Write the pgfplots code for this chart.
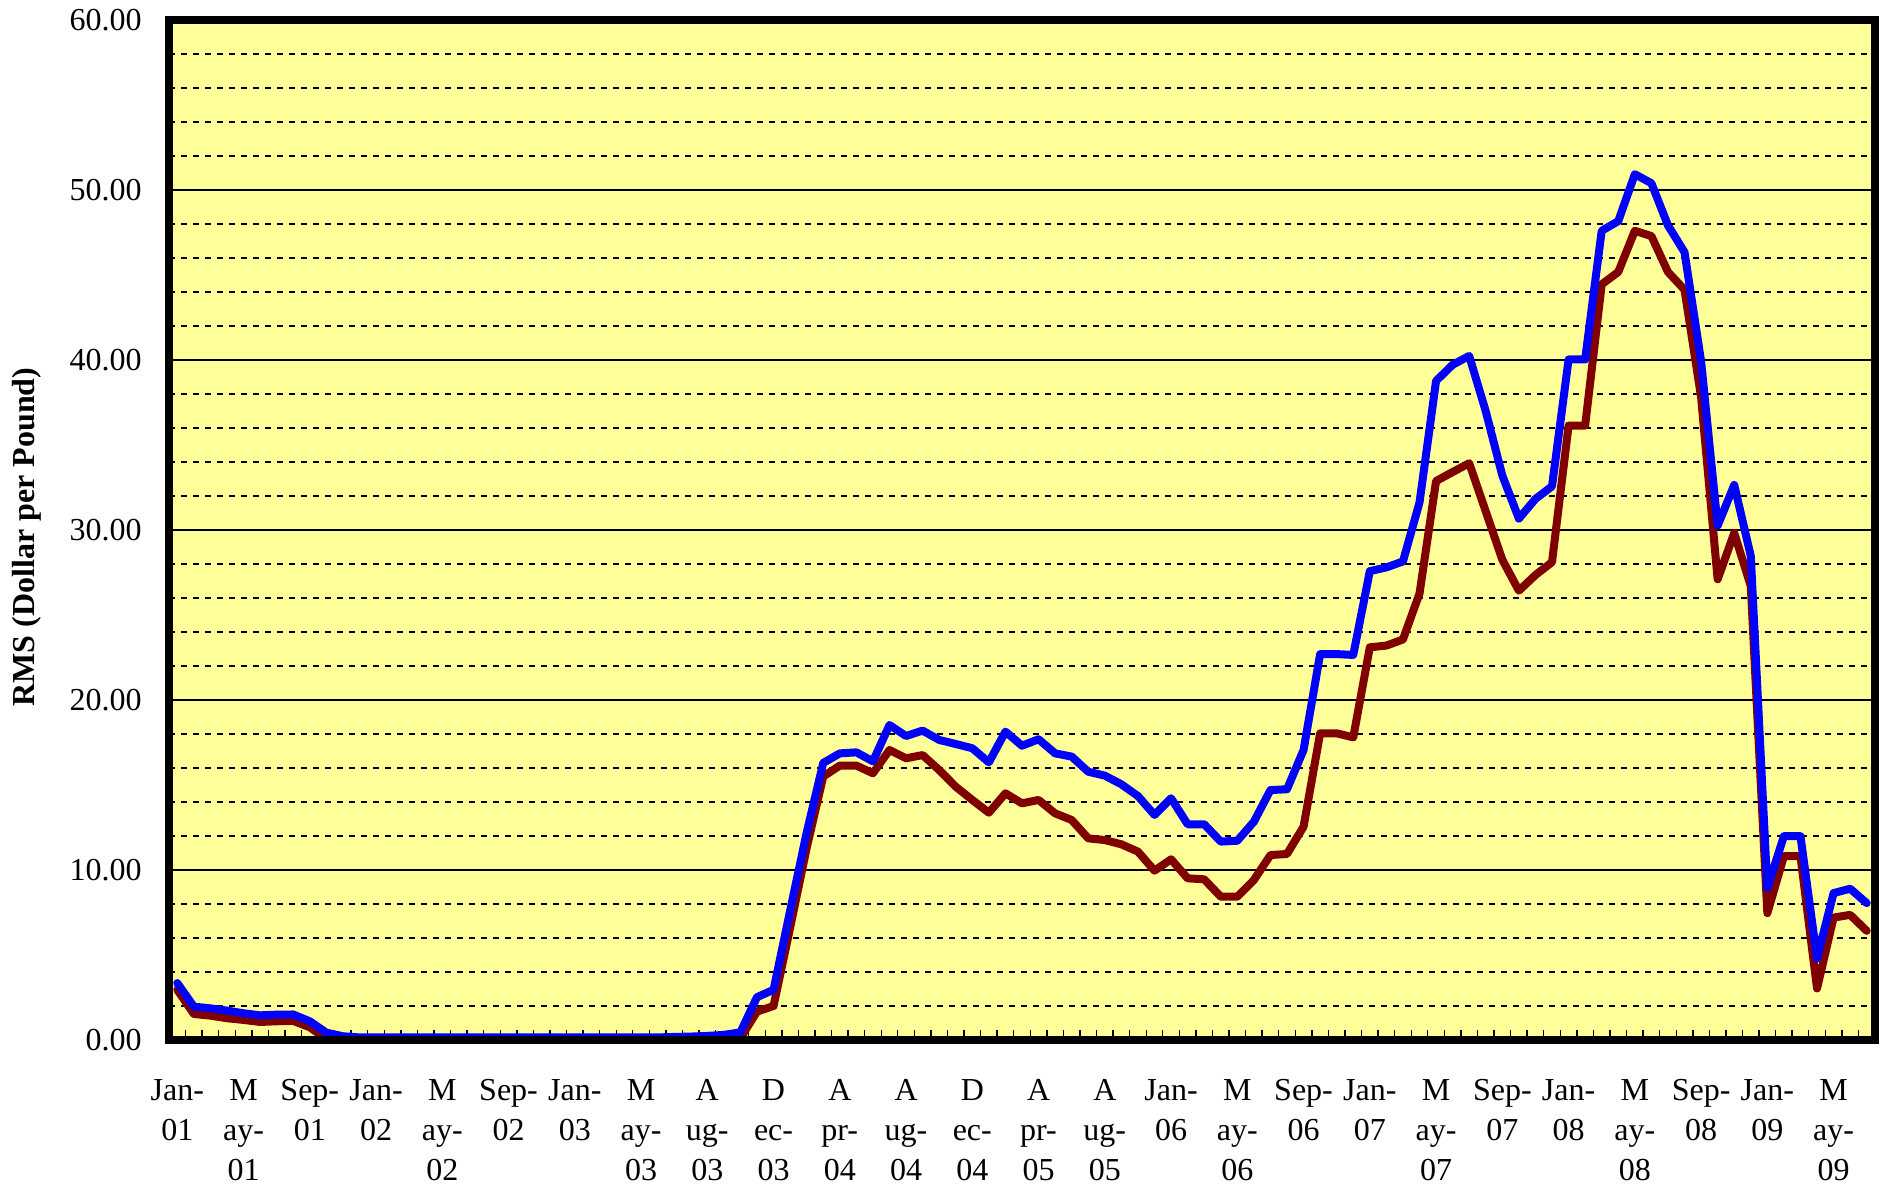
\documentclass[border=0pt]{standalone}
\usepackage{fontspec}
\setmainfont{Liberation Serif}
\usepackage{pgfplots}
\usepackage{pgfplotstable}
\pgfplotsset{compat=1.18}
\definecolor{bgyellow}{RGB}{255,255,153}
\definecolor{darkred}{RGB}{128,0,0}
\definecolor{pureblue}{RGB}{0,0,255}

\pgfplotstableread{
k blue red
0 3.35 2.95
1 1.96 1.53
2 1.86 1.43
3 1.73 1.28
4 1.57 1.18
5 1.45 1.06
6 1.49 1.10
7 1.50 1.12
8 1.10 0.75
9 0.43 0.05
10 0.22 0.02
11 0.15 0.02
12 0.15 0.02
13 0.15 0.02
14 0.15 0.02
15 0.15 0.02
16 0.15 0.02
17 0.15 0.02
18 0.15 0.02
19 0.15 0.02
20 0.15 0.02
21 0.15 0.02
22 0.15 0.02
23 0.15 0.02
24 0.15 0.02
25 0.15 0.02
26 0.15 0.02
27 0.15 0.02
28 0.15 0.02
29 0.15 0.02
30 0.18 0.02
31 0.20 0.03
32 0.24 0.04
33 0.30 0.06
34 0.45 0.10
35 2.52 1.67
36 2.95 2.00
37 7.60 6.60
38 12.20 11.30
39 16.30 15.50
40 16.86 16.14
41 16.92 16.14
42 16.39 15.69
43 18.53 17.06
44 17.88 16.57
45 18.20 16.76
46 17.65 15.88
47 17.41 14.90
48 17.16 14.12
49 16.33 13.37
50 18.14 14.51
51 17.31 13.92
52 17.69 14.12
53 16.86 13.33
54 16.67 12.94
55 15.78 11.86
56 15.55 11.76
57 15.04 11.51
58 14.35 11.08
59 13.24 9.96
60 14.22 10.63
61 12.69 9.51
62 12.69 9.45
63 11.67 8.43
64 11.72 8.43
65 12.84 9.41
66 14.70 10.88
67 14.75 10.94
68 17.06 12.55
69 22.70 18.04
70 22.70 18.04
71 22.65 17.80
72 27.58 23.10
73 27.80 23.20
74 28.15 23.56
75 31.62 26.26
76 38.77 32.88
77 39.72 33.41
78 40.24 33.93
79 36.98 31.09
80 33.20 28.25
81 30.67 26.43
82 31.83 27.35
83 32.57 28.11
84 40.03 36.14
85 40.03 36.14
86 47.60 44.45
87 48.17 45.18
88 50.93 47.60
89 50.40 47.29
90 47.92 45.18
91 46.34 44.13
92 39.93 37.82
93 30.25 27.10
94 32.65 29.82
95 28.47 26.70
96 8.94 7.46
97 11.99 10.81
98 11.99 10.81
99 4.80 3.03
100 8.64 7.20
101 8.90 7.36
102 8.05 6.42
}\datatable

\begin{document}
\begin{tikzpicture}
\path[use as bounding box] (-42.25pt,-36.25pt) rectangle (429.5pt,260pt);
\begin{axis}[
  name=ax,
  at={(0pt,0pt)}, anchor=south west,
  scale only axis, width=426.5pt, height=255pt,
  xmin=-0.5, xmax=102.5, ymin=0, ymax=60,
  axis background/.style={fill=bgyellow},
  axis line style={draw=none},
  xtick={0,4,...,100},
  xticklabels={{Jan-\\01},{M\\ay-\\01},{Sep-\\01},{Jan-\\02},{M\\ay-\\02},{Sep-\\02},{Jan-\\03},{M\\ay-\\03},{A\\ug-\\03},{D\\ec-\\03},{A\\pr-\\04},{A\\ug-\\04},{D\\ec-\\04},{A\\pr-\\05},{A\\ug-\\05},{Jan-\\06},{M\\ay-\\06},{Sep-\\06},{Jan-\\07},{M\\ay-\\07},{Sep-\\07},{Jan-\\08},{M\\ay-\\08},{Sep-\\08},{Jan-\\09},{M\\ay-\\09}},
  xticklabel style={align=center, font=\fontsize{8}{10}\selectfont, yshift=-6.3pt},
  extra x ticks={-0.5,0.5,...,102.5},
  extra x tick labels={},
  extra x tick style={major tick length=2.5pt, tick align=inside, grid=none, tick style={black, line width=0.35pt}},
  ytick={0,10,...,60},
  minor ytick={2,4,6,8,12,14,16,18,22,24,26,28,32,34,36,38,42,44,46,48,52,54,56,58},
  ymajorgrids, yminorgrids,
  major grid style={black, line width=0.3pt},
  minor grid style={black, line width=0.28pt, dash pattern=on 1.6pt off 1.4pt},
  major tick length=0pt, minor tick length=0pt,
  xtick pos=bottom, ytick pos=left,
  /pgf/number format/assume math mode=true,
  yticklabel style={font=\fontsize{8}{10}\selectfont, xshift=-3.3pt,
    /pgf/number format/fixed, /pgf/number format/fixed zerofill, /pgf/number format/precision=2},
  ylabel={RMS (Dollar per Pound)},
  ylabel style={at={([xshift=-35.6pt,yshift=-1.75pt]axis description cs:0,0.5)}, anchor=center, font=\bfseries\fontsize{8}{10}\selectfont},
]
\addplot[darkred, line width=2pt, line join=round, line cap=round, mark=none] table[x=k, y=red] \datatable;
\addplot[pureblue, line width=2pt, line join=round, line cap=round, mark=none] table[x=k, y=blue] \datatable;
\end{axis}
\draw[line width=2pt] (ax.south west) rectangle (ax.north east);
\end{tikzpicture}
\end{document}
